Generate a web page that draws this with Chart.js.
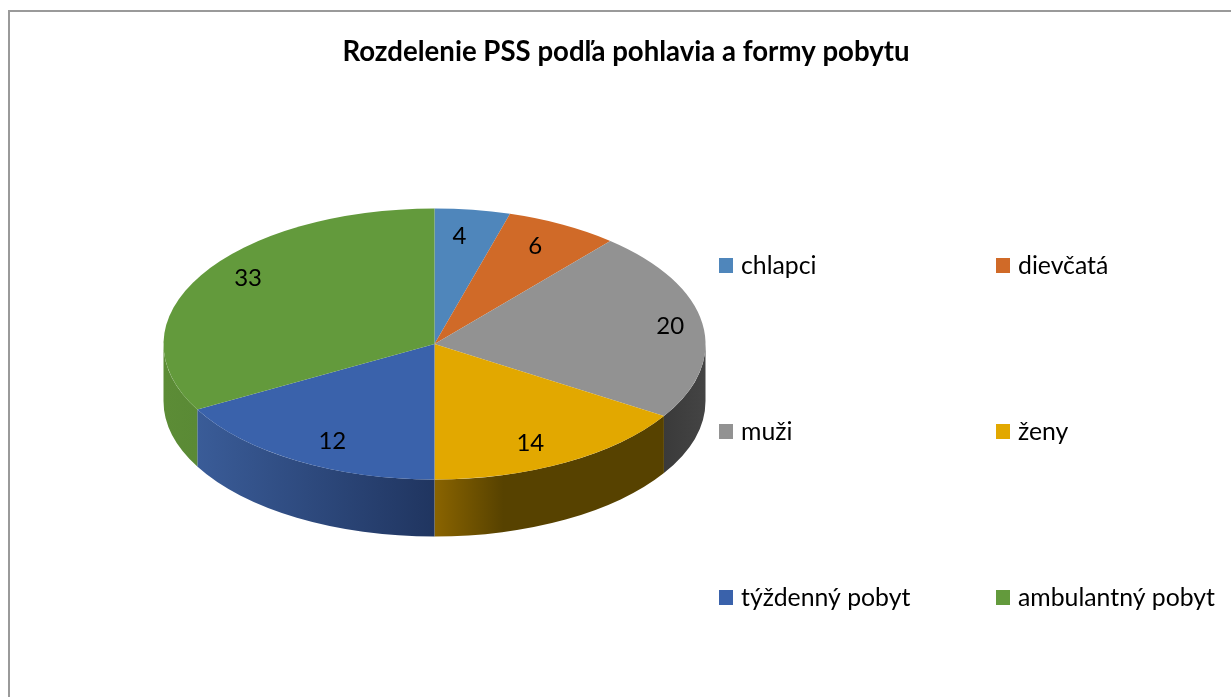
<!DOCTYPE html>
<html>
<head>
<meta charset="utf-8">
<title>Rozdelenie PSS</title>
<script src="https://cdn.jsdelivr.net/npm/chart.js@4/dist/chart.umd.min.js"></script>
<style>
    html, body { margin: 0; padding: 0; background: #fff; overflow: hidden; }
    #wrap { width: 1231px; height: 697px; }
</style>
</head>
<body>
<div id="wrap"><canvas id="pssChart" width="1231" height="697"></canvas></div>
<script>
var chartTitle = 'Rozdelenie PSS podľa pohlavia a formy pobytu';
var categories = ['chlapci', 'dievčatá', 'muži', 'ženy', 'týždenný pobyt', 'ambulantný pobyt'];
// printed numbers
var valueLabels = ['4', '6', '20', '14', '12', '33'];
var sliceSizes = [4, 6, 20.2, 14.3, 15.1, 29.4];

var topColors = ['#4f86bb', '#d06a28', '#929292', '#e2a800', '#3a62ab', '#639a3c'];
// side wall shades, left to right
var wallStart = ['#3c6a94', '#a5521e', '#3a3a3a', '#8a6400', '#3a5c98', '#5c8c36'];
var wallEnd = ['#2f5475', '#7c3e16', '#444444', '#574200', '#203560', '#5a8a35'];

// where the value labels sit, relative to the middle of each slice
var labelRadius = [0.80, 0.81, 0.88, 0.815, 0.81, 0.84];
var labelShift = [-1.5, -1.0, 0, 3.2, -2.8, 4.5];

var FONT = 'Lato, "Noto Sans", sans-serif';
var SQUASH = 0.5;
var DEPTH = 57;
var legendCols = [719, 996];
var legendRows = [265, 431, 597];

var pie3d = {
    id: 'pie3d',
    beforeDatasetsDraw: function (chart) {
        var ctx = chart.ctx;
        var arcs = chart.getDatasetMeta(0).data;
        var cy = arcs[0].y;

        // side wall: only the part of each slice facing the viewer
        arcs.forEach(function (arc, i) {
            var a = Math.max(arc.startAngle, 0);
            var b = Math.min(arc.endAngle, Math.PI);
            if (b <= a) return;
            var r = arc.outerRadius;
            var x1 = arc.x + r * Math.cos(b);
            var x2 = arc.x + r * Math.cos(a);
            var grad = ctx.createLinearGradient(x1, 0, x2, 0);
            grad.addColorStop(0, wallStart[i]);
            grad.addColorStop(i === 3 ? 0.3 : 1, wallEnd[i]);
            grad.addColorStop(1, wallEnd[i]);
            ctx.beginPath();
            ctx.ellipse(arc.x, arc.y, r, r * SQUASH, 0, a, b);
            ctx.ellipse(arc.x, arc.y + DEPTH, r, r * SQUASH, 0, b, a, true);
            ctx.closePath();
            ctx.fillStyle = grad;
            ctx.fill();
        });

        // top face: library arcs, flattened
        ctx.save();
        ctx.translate(0, cy);
        ctx.scale(1, SQUASH);
        ctx.translate(0, -cy);
    },
    afterDatasetsDraw: function (chart) {
        var ctx = chart.ctx;
        ctx.restore();

        var arcs = chart.getDatasetMeta(0).data;
        ctx.save();
        ctx.fillStyle = '#000';
        ctx.textBaseline = 'middle';

        ctx.font = '24px ' + FONT;
        ctx.textAlign = 'center';
        arcs.forEach(function (arc, i) {
            var mid = (arc.startAngle + arc.endAngle) / 2 + labelShift[i] * Math.PI / 180;
            var r = arc.outerRadius * labelRadius[i];
            ctx.fillText(valueLabels[i], arc.x + r * Math.cos(mid), arc.y + r * SQUASH * Math.sin(mid));
        });

        ctx.font = 'bold 27.6px ' + FONT;
        ctx.fillText(chartTitle, 626, 52);

        // legend, filled row by row
        ctx.font = '24.8px ' + FONT;
        ctx.textAlign = 'left';
        categories.forEach(function (name, i) {
            var x = legendCols[i % 2];
            var y = legendRows[Math.floor(i / 2)];
            ctx.fillStyle = topColors[i];
            ctx.fillRect(x, y - 7, 14, 15);
            ctx.fillStyle = '#000';
            ctx.fillText(name, x + 22, y + 1);
        });

        // frame of the original picture
        ctx.fillStyle = '#9a9a9a';
        ctx.fillRect(8, 10, 1223, 2);
        ctx.fillRect(8, 10, 2, 687);
        ctx.restore();
    }
};

document.addEventListener('DOMContentLoaded', function () {
    var ctxPie = document.getElementById('pssChart').getContext('2d');
    new Chart(ctxPie, {
        type: 'pie',
        data: {
            labels: categories,
            datasets: [{
                data: sliceSizes,
                backgroundColor: topColors,
                borderWidth: 0,
                clip: false
            }]
        },
        options: {
            responsive: false,
            animation: false,
            layout: { padding: { left: 163, right: 525, top: 73, bottom: 82 } },
            plugins: {
                legend: { display: false },
                tooltip: { enabled: false }
            }
        },
        plugins: [pie3d]
    });
});
</script>
</body>
</html>
